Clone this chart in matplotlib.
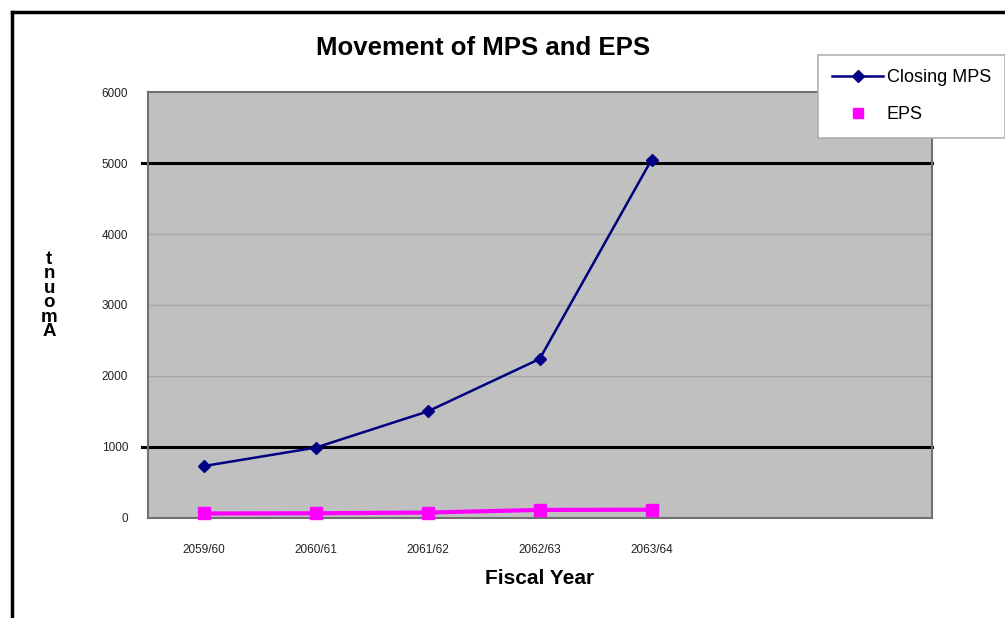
import matplotlib.pyplot as plt
from matplotlib.lines import Line2D

years = ['2059/60', '2060/61', '2061/62', '2062/63', '2063/64', '', '']
closing_mps = [730, 990, 1500, 2240, 5050]
eps = [62, 65, 75, 112, 115]
y_ticks = [0, 1000, 2000, 3000, 4000, 5000, 6000]

plt.rcParams['font.family'] = ['Liberation Sans', 'DejaVu Sans']

fig = plt.figure(figsize=(10.05, 6.18), dpi=100)
ax = fig.add_axes([0.147, 0.162, 0.780, 0.689])
ax.set_facecolor('#c0c0c0')

x = list(range(len(years)))
ax.set_xlim(-0.5, len(years) - 0.5)
ax.set_ylim(0, 6000)

# light gridlines, heavy black lines at 1000 and 5000
for v in [2000, 3000, 4000]:
    ax.axhline(v, color='#a8a8a8', lw=1, zorder=1)
for v in [1000, 5000]:
    ax.plot([-0.55, len(years) - 0.5], [v, v], color='black', lw=2.2,
            zorder=2, clip_on=False)

ax.plot(x[:len(closing_mps)], closing_mps, color='#000080', lw=1.8,
        marker='D', ms=6, label='Closing MPS', zorder=4)
ax.plot(x[:len(eps)], eps, color='#ff00ff', lw=3, marker='s', ms=8,
        label='EPS', zorder=5, clip_on=False)

ax.set_xticks(x)
ax.set_xticklabels(years, fontsize=8.5, color='#222222')
ax.set_yticks(y_ticks)
ax.set_yticklabels([str(v) for v in y_ticks], fontsize=8.5, color='#222222')
ax.tick_params(axis='y', length=0, pad=14)
ax.tick_params(axis='x', length=0, pad=19)
for s in ax.spines.values():
    s.set_color('#707070')
    s.set_linewidth(1.5)

fig.text(0.481, 0.922, 'Movement of MPS and EPS', ha='center', va='center',
         fontsize=18.5, fontweight='bold')
fig.text(0.537, 0.064, 'Fiscal Year', ha='center', va='center',
         fontsize=15, fontweight='bold')
fig.text(0.049, 0.522, 't\nn\nu\no\nm\nA', ha='center', va='center',
         fontsize=13.5, fontweight='bold', linespacing=0.8)

# chart frame
fig.add_artist(Line2D([0.012, 0.012], [0, 0.981], color='black', lw=2.5))
fig.add_artist(Line2D([0.012, 1.0], [0.981, 0.981], color='black', lw=2.5))

handles = [Line2D([], [], color='#000080', lw=1.8, marker='D', ms=6),
           Line2D([], [], color='#ff00ff', lw=0, marker='s', ms=7)]
leg = fig.legend(handles, ['Closing MPS', 'EPS'], loc='upper left',
                 bbox_to_anchor=(0.805, 0.926), fontsize=13, frameon=True,
                 fancybox=False, edgecolor='#b0b0b0', handlelength=2.8,
                 handletextpad=0.2, borderpad=0.8, labelspacing=1.1,
                 framealpha=1)
leg.get_frame().set_linewidth(1.2)

fig.savefig('out.png', dpi=100)
